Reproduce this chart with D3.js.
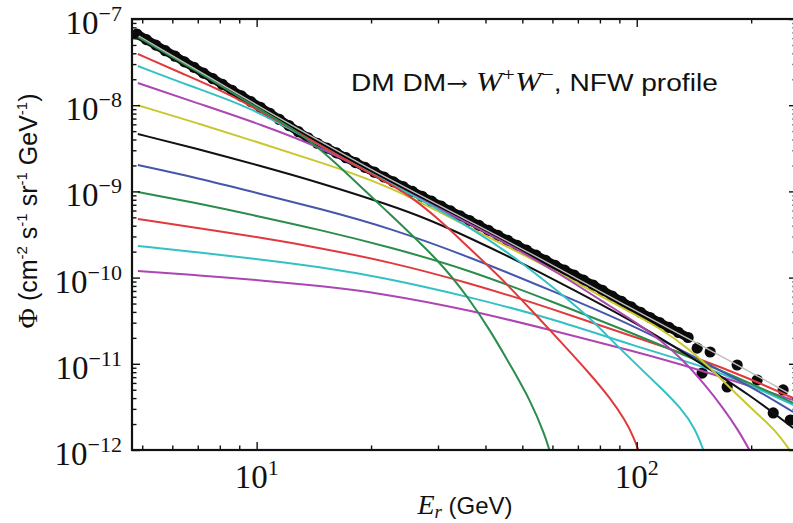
<!DOCTYPE html>
<html><head><meta charset="utf-8">
<script src="https://cdn.jsdelivr.net/npm/d3@7"></script>
<style>body{margin:0;background:#fff;overflow:hidden} svg{display:block}</style>
</head><body><svg id="c" width="793" height="523"></svg>
<script>
// ---------------- data ----------------
const dataE = [4.84,5.13,5.43,5.75,6.10,6.46,6.84,7.24,7.67,8.13,8.61,9.12,9.66,10.23,10.84,11.48,12.16,12.88,13.65,14.45,15.31,16.22,17.18,18.20,19.28,20.42,21.63,22.91,24.27,25.70,27.23,28.84,30.55,32.36,34.28,36.31,38.46,40.74,43.15,45.71,48.42,51.29,54.33,57.54,60.95,64.57,68.39,72.44,76.74,81.28,86.10,91.20,96.61,102.3,108.4,114.8,121.6,128.8,136.5];
const dataPhi = [6.70e-8,5.77e-8,4.98e-8,4.29e-8,3.70e-8,3.18e-8,2.75e-8,2.36e-8,2.03e-8,1.74e-8,1.49e-8,1.28e-8,1.10e-8,9.46e-9,8.04e-9,6.84e-9,5.81e-9,4.93e-9,4.19e-9,3.61e-9,3.18e-9,2.80e-9,2.46e-9,2.16e-9,1.90e-9,1.67e-9,1.47e-9,1.29e-9,1.14e-9,9.98e-10,8.77e-10,7.70e-10,6.76e-10,5.94e-10,5.22e-10,4.59e-10,4.03e-10,3.53e-10,3.09e-10,2.71e-10,2.37e-10,2.08e-10,1.82e-10,1.59e-10,1.39e-10,1.22e-10,1.07e-10,9.35e-11,8.20e-11,7.10e-11,6.12e-11,5.30e-11,4.58e-11,3.96e-11,3.44e-11,3.01e-11,2.64e-11,2.31e-11,2.02e-11];
const highE   = [144.2,148.6,156.0,172.9,183.7,207.4,228.6,242.7,253.5];
const highPhi = [1.52e-11,7.81e-12,1.37e-11,5.38e-12,9.68e-12,6.49e-12,2.69e-12,4.97e-12,2.23e-12];

const fitE   = [4.9, 10, 20, 50, 100, 150, 250];
const fitPhi = [6.35e-8, 1.0e-8, 1.75e-9, 2.2e-10, 4.0e-11, 1.6e-11, 4.6e-12];

const greenSteepE   = [4.87,7.10,10.0,12.77,15.6,21.1,30.4,36.4,41.1,47.3,52.4,57.4,59.8];
const greenSteepPhi = [6.18e-8,2.37e-8,9.29e-9,5.02e-9,2.51e-9,6.95e-10,1.55e-10,5.50e-11,2.47e-11,8.47e-12,3.80e-12,1.49e-12,8.0e-13];
const redSteepE     = [4.87,6.31,8.51,12.24,16.58,22.4,24.9,30.4,36.4,43.7,53.4,62.8,75.4,85.1,93.2,98.4,102.1];
const redSteepPhi   = [3.93e-8,2.37e-8,1.35e-8,5.43e-9,2.51e-9,1.22e-9,9.33e-10,4.66e-10,2.15e-10,1.02e-10,3.99e-11,1.84e-11,7.62e-12,4.01e-12,2.23e-12,1.38e-12,8.75e-13];
const cyanSteepE    = [4.87,6.68,9.43,13.0,18.7,26.9,37.1,49.3,62.8,75.4,86.7,102.1,117.3,130.0,142.4,150.4];
const cyanSteepPhi  = [2.85e-8,1.67e-8,9.80e-9,4.63e-9,1.87e-9,8.16e-10,3.66e-10,1.56e-10,6.63e-11,3.40e-11,1.79e-11,8.93e-12,4.97e-12,3.15e-12,1.80e-12,9.48e-13];
const magSteepE     = [4.87,7.10,10.2,15.6,22.4,32.3,46.4,62.8,80.1,102.1,115.2,132.4,151.4,168.8,184.9,200.0];
const magSteepPhi   = [1.81e-8,1.03e-8,6.05e-9,2.94e-9,1.22e-9,5.47e-10,2.39e-10,1.10e-10,5.50e-11,2.82e-11,1.89e-11,1.11e-11,5.68e-12,3.07e-12,1.71e-12,9.22e-13];
const yellowE       = [4.87,7.10,10.2,14.68,22.4,36.4,59.2,75.4,96.0,115.2,138.2,156.0,176.1,207.4,231.3,254.8];
const yellowPhi     = [1.0e-8,6.05e-9,3.64e-9,2.19e-9,1.16e-9,3.76e-10,1.29e-10,7.18e-11,3.99e-11,2.60e-11,1.45e-11,8.93e-12,5.24e-12,2.62e-12,1.71e-12,9.48e-13];
const blackE        = [4.87,7.10,10.0,14.68,22.4,28.6,36.4,49.3,66.8,102.1,146.8,198.8,257.9];
const blackPhi      = [4.63e-9,3.06e-9,2.03e-9,1.26e-9,6.95e-10,4.66e-10,2.88e-10,1.52e-10,7.57e-11,2.82e-11,1.02e-11,4.34e-12,1.80e-12];
const flatE         = [4.87,7.10,10.0,14.68,22.4,36.4,59.2,100.2,146.8,198.8,257.9];
const bluePhi       = [2.02e-9,1.41e-9,9.6e-10,6.3e-10,3.76e-10,1.73e-10,7.18e-11,2.67e-11,1.11e-11,5.52e-12,2.76e-12];
const greenFlatPhi  = [9.84e-10,7.2e-10,5.2e-10,3.58e-10,2.26e-10,1.22e-10,5.36e-11,2.16e-11,1.05e-11,5.98e-12,3.51e-12];
const redFlatPhi    = [4.79e-10,3.71e-10,2.97e-10,2.21e-10,1.52e-10,8.65e-11,4.43e-11,1.99e-11,1.14e-11,6.67e-12,4.01e-12];
const lowFlatE      = [4.87,7.10,10.0,14.68,21.1,36.4,59.2,100.2,146.8,198.8,257.9];
const cyanFlatPhi   = [2.33e-10,1.95e-10,1.65e-10,1.33e-10,1.02e-10,5.96e-11,3.40e-11,1.57e-11,9.68e-12,5.68e-12,3.33e-12];
const magFlatPhi    = [1.19e-10,1.06e-10,9.4e-11,8.0e-11,6.63e-11,4.21e-11,2.47e-11,1.37e-11,8.47e-12,5.52e-12,3.80e-12];

const xMajor = [10, 100];
const xTickExps = ["1", "2"];
const yMajor = [1e-7, 1e-8, 1e-9, 1e-10, 1e-11, 1e-12];
const yTickExps = ["\u22127", "\u22128", "\u22129", "\u221210", "\u221211", "\u221212"];

// ---------------- colours ----------------
const C = {g:"#2b8c4c", r:"#e03a3c", c:"#33c1c6", m:"#ad45b3", y:"#c8c82c", k:"#111111", b:"#4656ab"};

const series = [
  {E: lowFlatE, P: magFlatPhi, col: C.m},
  {E: lowFlatE, P: cyanFlatPhi, col: C.c},
  {E: flatE, P: redFlatPhi, col: C.r},
  {E: flatE, P: greenFlatPhi, col: C.g},
  {E: flatE, P: bluePhi, col: C.b},
  {E: blackE, P: blackPhi, col: C.k},
  {E: yellowE, P: yellowPhi, col: C.y},
  {E: magSteepE, P: magSteepPhi, col: C.m},
  {E: cyanSteepE, P: cyanSteepPhi, col: C.c},
  {E: redSteepE, P: redSteepPhi, col: C.r},
  {E: greenSteepE, P: greenSteepPhi, col: C.g}
];

// ---------------- layout ----------------
const L = 132, R = 797, T = 19, B = 450;
const svg = d3.select("#c");
const x = d3.scaleLog().domain([4.7, 264]).range([L, R]);
const y = d3.scaleLog().domain([1e-12, 1e-7]).range([B, T]);

svg.append("defs").append("clipPath").attr("id","clip")
  .append("rect").attr("x",L).attr("y",T).attr("width",R-L).attr("height",B-T);
const plot = svg.append("g").attr("clip-path","url(#clip)");

// data points: dense band + sparse high-energy points
const dense = dataE.map((e,i)=>[e,dataPhi[i]]);
const sparse = highE.map((e,i)=>[e,highPhi[i]]);
const straight = d3.line().x(d=>x(d[0])).y(d=>y(d[1]));
plot.append("path").datum(dense).attr("d",straight).attr("fill","none")
  .attr("stroke","#0a0a0a").attr("stroke-width",9).attr("stroke-linecap","round");
plot.append("g").selectAll("circle").data(dense.concat(sparse))
  .join("circle").attr("cx",d=>x(d[0])).attr("cy",d=>y(d[1])).attr("r",5.6)
  .attr("fill","#0a0a0a");

const line = d3.line().x(d=>x(d[0])).y(d=>y(d[1])).curve(d3.curveBasis);
series.forEach(s=>{
  plot.append("path").datum(s.E.map((e,i)=>[e,s.P[i]]))
    .attr("d",line).attr("fill","none").attr("stroke",s.col).attr("stroke-width",2);
});
plot.append("path").datum(fitE.map((e,i)=>[e,fitPhi[i]]))
  .attr("d",line).attr("fill","none").attr("stroke","#bdbdbd").attr("stroke-width",1.4);

// ---------------- axes ----------------
const xMinor = x.ticks().filter(v=>!xMajor.some(m=>Math.abs(m-v)/m<1e-6));
const yMinor = y.ticks().filter(v=>!yMajor.some(m=>Math.abs(m-v)/m<1e-6));
function styleAxis(g){ g.select(".domain").remove(); g.selectAll("line").attr("stroke","#111").attr("stroke-width",1.4); g.selectAll("text").remove(); }
svg.append("g").attr("transform",`translate(0,${B})`).call(d3.axisBottom(x).tickValues(xMajor).tickSize(-8)).call(styleAxis);
svg.append("g").attr("transform",`translate(0,${B})`).call(d3.axisBottom(x).tickValues(xMinor).tickSize(-4.5)).call(styleAxis);
svg.append("g").attr("transform",`translate(0,${T})`).call(d3.axisTop(x).tickValues(xMajor).tickSize(-8)).call(styleAxis);
svg.append("g").attr("transform",`translate(0,${T})`).call(d3.axisTop(x).tickValues(xMinor).tickSize(-4.5)).call(styleAxis);
svg.append("g").attr("transform",`translate(${L},0)`).call(d3.axisLeft(y).tickValues(yMajor).tickSize(-8)).call(styleAxis);
svg.append("g").attr("transform",`translate(${L},0)`).call(d3.axisLeft(y).tickValues(yMinor).tickSize(-4.5)).call(styleAxis);
svg.append("g").attr("transform",`translate(${R},0)`).call(d3.axisRight(y).tickValues(yMajor).tickSize(-8)).call(styleAxis);
svg.append("g").attr("transform",`translate(${R},0)`).call(d3.axisRight(y).tickValues(yMinor).tickSize(-4.5)).call(styleAxis);
svg.append("rect").attr("x",L).attr("y",T).attr("width",R-L).attr("height",B-T)
  .attr("fill","none").attr("stroke","#111").attr("stroke-width",2.2);

// tick labels
const serif = "'Liberation Serif','Times New Roman',serif";
const sans = "'Liberation Sans',Arial,Helvetica,sans-serif";
yMajor.forEach((v,i)=>{
  const t = svg.append("text").attr("x",L-10).attr("y",y(v)+15).attr("text-anchor","end")
    .attr("font-family",serif).attr("font-size",33).attr("fill","#111");
  t.append("tspan").text("10");
  t.append("tspan").attr("font-size",22).attr("dy",-13).text(yTickExps[i]);
});
xMajor.forEach((v,i)=>{
  const t = svg.append("text").attr("x",x(v)).attr("y",488).attr("text-anchor","middle")
    .attr("font-family",serif).attr("font-size",33).attr("fill","#111");
  t.append("tspan").text("10");
  t.append("tspan").attr("font-size",22).attr("dy",-13).text(xTickExps[i]);
});

// axis labels
const xl = svg.append("text").attr("x",465).attr("y",514).attr("text-anchor","middle").attr("fill","#111");
xl.append("tspan").attr("font-family",serif).attr("font-style","italic").attr("font-size",28).text("E");
xl.append("tspan").attr("font-family",serif).attr("font-style","italic").attr("font-size",19).attr("dy",4).text("r");
xl.append("tspan").attr("font-family",sans).attr("font-size",24).attr("dy",-4).text(" (GeV)");

const yl = svg.append("text").attr("transform","translate(37,211) rotate(-90)").attr("text-anchor","middle")
  .attr("font-family",sans).attr("font-size",25).attr("fill","#111");
yl.append("tspan").attr("font-family",serif).attr("font-size",28).text("\u03A6");
const ylParts = [[" (cm","-2"],[" s","-1"],[" sr","-1"],[" GeV","-1"]];
ylParts.forEach((p,i)=>{
  yl.append("tspan").attr("dy",i===0?0:10).text(p[0]);
  yl.append("tspan").attr("font-size",15).attr("dy",-10).text(p[1]);
});
yl.append("tspan").attr("dy",10).text(")");

// annotation
const ag = svg.append("g");
const at = ag.append("text").attr("x",0).attr("y",0).attr("fill","#111").attr("font-family",sans).attr("font-size",24);
at.append("tspan").text("DM DM");
at.append("tspan").attr("font-family","'DejaVu Serif',serif").attr("font-size",22).text("\u2192 ");
at.append("tspan").attr("font-family",serif).attr("font-style","italic").attr("font-size",27).text("W");
at.append("tspan").attr("font-family",serif).attr("font-size",19).attr("dy",-10).text("+");
at.append("tspan").attr("font-family",serif).attr("font-style","italic").attr("font-size",27).attr("dy",10).text("W");
at.append("tspan").attr("font-family",serif).attr("font-size",19).attr("dy",-10).text("\u2212");
at.append("tspan").attr("dy",10).text(", NFW profile");
const w = at.node().getComputedTextLength();
ag.attr("transform",`translate(351,90.7) scale(${367/w},1)`);
</script></body></html>
